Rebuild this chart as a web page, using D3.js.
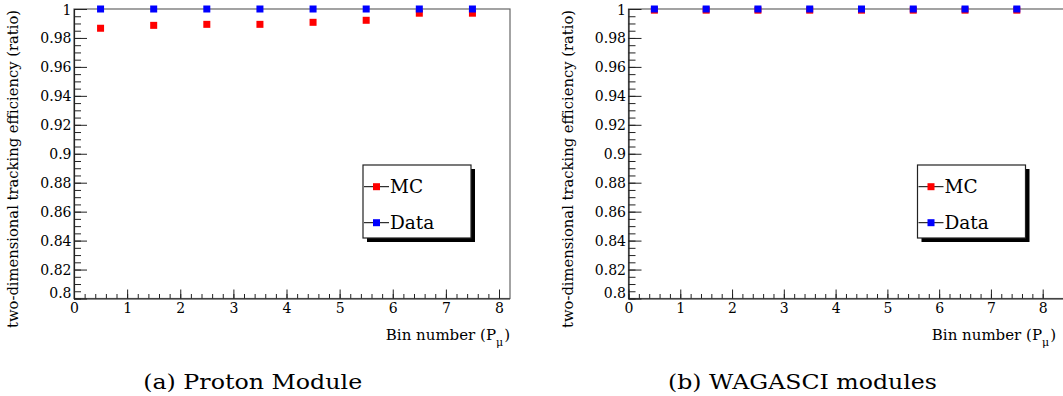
<!DOCTYPE html>
<html>
<head>
<meta charset="utf-8">
<script src="https://cdn.jsdelivr.net/npm/d3@7"></script>
<style>
  html, body { margin: 0; padding: 0; background: #fff; }
  svg { display: block; }
</style>
</head>
<body>
<svg id="chart" width="1063" height="396"></svg>
<script>
// ---------- data ----------
const bins = [0.5, 1.5, 2.5, 3.5, 4.5, 5.5, 6.5, 7.5];
const pmMC   = [0.9867, 0.9887, 0.9894, 0.9894, 0.9908, 0.9922, 0.9971, 0.9971];
const pmData = [1.0, 1.0, 1.0, 1.0, 1.0, 1.0, 1.0, 1.0];
const wgMC   = [0.9992, 0.9992, 0.9992, 0.9992, 0.9992, 0.9992, 0.9992, 0.9992];
const wgData = [1.0, 1.0, 1.0, 1.0, 1.0, 1.0, 1.0, 1.0];
const yMajorTicks = [0.8, 0.82, 0.84, 0.86, 0.88, 0.9, 0.92, 0.94, 0.96, 0.98, 1.0];
const yTickLabels = ["0.8", "0.82", "0.84", "0.86", "0.88", "0.9", "0.92", "0.94", "0.96", "0.98", "1"];
const xMajorTicks = [0, 1, 2, 3, 4, 5, 6, 7, 8];
const xTickLabels = ["0", "1", "2", "3", "4", "5", "6", "7", "8"];
const seriesNames = ["MC", "Data"];
const seriesColors = ["#ff0000", "#0000ff"];
const yTitle = "two-dimensional tracking efficiency (ratio)";
const xTitleMain = "Bin number (P";
const xTitleSub = "μ";
const captions = ["(a) Proton Module", "(b) WAGASCI modules"];

// ---------- layout ----------
const FONT = "DejaVu Serif";
const svg = d3.select("#chart");
const yTop = 9, yBottom = 298.5;
const panels = [
  { x0: 74,    x8: 499,    right: 510,  titleEnd: 510,  mc: pmMC, data: pmData, cap: captions[0], capX: 252.7, capW: 219 },
  { x0: 628.5, x8: 1042.7, right: 1068, titleEnd: 1056, mc: wgMC, data: wgData, cap: captions[1], capX: 802.5, capW: 269 }
];

const yMinor = d3.range(0, 41).map(i => +(0.8 + i * 0.005).toFixed(4));
const xMinor = d3.range(0, 41).map(i => +(i * 0.2).toFixed(2)).filter(v => v <= 8.2);

panels.forEach((p, pi) => {
  const g = svg.append("g");
  const x = d3.scaleLinear().domain([0, 8]).range([p.x0, p.x8]);
  const y = d3.scaleLinear().domain([0.8, 1.0]).range([yBottom, yTop]);

  g.append("rect")
    .attr("x", p.x0).attr("y", yTop)
    .attr("width", p.right - p.x0).attr("height", yBottom - yTop)
    .attr("fill", "none").attr("stroke", "#666").attr("stroke-width", 1.2);

  g.append("g").attr("transform", `translate(${p.x0},0)`)
    .call(d3.axisLeft(y).tickValues(yMinor).tickSizeInner(-7).tickSizeOuter(0).tickFormat(""))
    .call(a => a.select(".domain").remove())
    .call(a => a.selectAll("line").attr("stroke", "#222"));
  g.append("g").attr("transform", `translate(${p.x0},0)`)
    .call(d3.axisLeft(y).tickValues(yMajorTicks).tickSizeInner(-13).tickSizeOuter(0).tickPadding(2.5)
      .tickFormat((d, i) => yTickLabels[i]))
    .call(a => a.select(".domain").attr("stroke", "#222").attr("stroke-width", 1.2))
    .call(a => a.selectAll("line").attr("stroke", "#222"))
    .call(a => a.selectAll("text").attr("fill", "#000").style("font-family", FONT).style("font-size", "14px")
      .attr("dy", d => d === 0.8 ? "-0.1em" : "0.36em"));

  g.append("g").attr("transform", `translate(0,${yBottom})`)
    .call(d3.axisBottom(x).tickValues(xMinor).tickSizeInner(-4.5).tickSizeOuter(0).tickFormat(""))
    .call(a => a.select(".domain").remove())
    .call(a => a.selectAll("line").attr("stroke", "#222"));
  g.append("g").attr("transform", `translate(0,${yBottom})`)
    .call(d3.axisBottom(x).tickValues(xMajorTicks).tickSizeInner(-9).tickSizeOuter(0).tickPadding(3)
      .tickFormat((d, i) => xTickLabels[i]))
    .call(a => a.select(".domain").attr("d", `M${p.x0},0.5H${p.right}`).attr("stroke", "#222").attr("stroke-width", 1.2))
    .call(a => a.selectAll("line").attr("stroke", "#222"))
    .call(a => a.selectAll("text").attr("fill", "#000").style("font-family", FONT).style("font-size", "14px")
      .attr("dy", "0.8em"));

  const ms = 7;
  [p.mc, p.data].forEach((vals, si) => {
    g.append("g").selectAll("rect").data(bins.map((b, i) => [b, vals[i]])).join("rect")
      .attr("x", d => x(d[0]) - ms / 2).attr("y", d => y(d[1]) - ms / 2)
      .attr("width", ms).attr("height", ms)
      .attr("fill", seriesColors[si]);
  });

  g.append("text")
    .attr("transform", `translate(${p.x0 - 56},${yTop + 1}) rotate(-90)`)
    .attr("text-anchor", "end").style("font-family", FONT).style("font-size", "14.7px")
    .attr("textLength", 318).attr("lengthAdjust", "spacingAndGlyphs")
    .text(yTitle);

  const xt = g.append("text")
    .attr("x", p.titleEnd).attr("y", 340)
    .attr("text-anchor", "end").style("font-family", FONT).style("font-size", "15px");
  xt.append("tspan").text(xTitleMain);
  xt.append("tspan").style("font-size", "11px").attr("dy", 6).text(xTitleSub);
  xt.append("tspan").attr("dy", -6).attr("dx", 1).text(")");

  const lx = p.x0 + 289, ly = 165, lw = 108, lh = 73;
  const leg = g.append("g");
  leg.append("rect").attr("x", lx + 4).attr("y", ly + 4).attr("width", lw).attr("height", lh).attr("fill", "#000");
  leg.append("rect").attr("x", lx).attr("y", ly).attr("width", lw).attr("height", lh)
    .attr("fill", "#fff").attr("stroke", "#222").attr("stroke-width", 1.2);
  const rowsY = [ly + 21.7, ly + 57.7];
  seriesNames.forEach((name, i) => {
    const cy = rowsY[i];
    leg.append("line").attr("x1", lx + 1).attr("x2", lx + 26).attr("y1", cy).attr("y2", cy)
      .attr("stroke", "#000").attr("stroke-width", 1);
    leg.append("rect").attr("x", lx + 13.5 - 3.5).attr("y", cy - 3.5).attr("width", 7).attr("height", 7)
      .attr("fill", seriesColors[i]);
    leg.append("text").attr("x", lx + 27).attr("y", cy + 6.5).style("font-family", FONT).style("font-size", "18.5px").text(name);
  });

  svg.append("text")
    .attr("x", p.capX).attr("y", 389).attr("text-anchor", "middle")
    .style("font-family", FONT).style("font-size", "21px")
    .attr("textLength", p.capW).attr("lengthAdjust", "spacingAndGlyphs")
    .text(p.cap);
});
</script>
</body>
</html>
